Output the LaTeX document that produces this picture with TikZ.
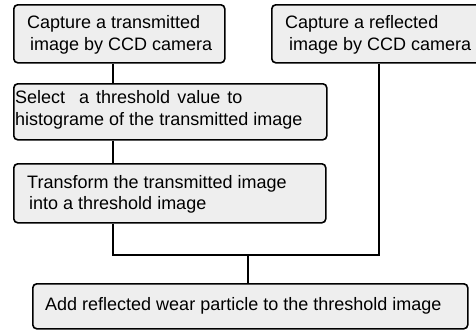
\documentclass[tikz,border=0pt]{standalone}
\usepackage{fontspec}
\setmainfont{Liberation Sans}
\begin{document}
\begin{tikzpicture}[x=1pt,y=-1pt,
  stepbox/.style={draw=black, line width=1.6pt, rounded corners=4pt, fill=gray!13,
    anchor=north west, inner sep=0pt},
  steptext/.style={align=left, font=\fontsize{18}{21.5}\selectfont, anchor=west, inner sep=0pt},
  link/.style={draw=black, line width=1.6pt}]
\useasboundingbox (0,0) rectangle (476,332);
\node[stepbox, minimum width=211pt, minimum height=58pt] (b1) at (13,4) {};
\node[stepbox, minimum width=210pt, minimum height=58pt] (b2) at (271,4) {};
\node[stepbox, minimum width=313pt, minimum height=56pt] (b3) at (13,83) {};
\node[stepbox, minimum width=312pt, minimum height=59pt] (b4) at (13,163) {};
\node[stepbox, minimum width=435pt, minimum height=45pt] (b5) at (32,283) {};
\node[steptext] (t1) at ([xshift=14pt,yshift=-1pt]b1.west) {Capture a transmitted\\\hspace{3pt}image by CCD camera};
\node[steptext] (t2) at ([xshift=14pt,yshift=-1pt]b2.west) {Capture a reflected\\\hspace{4pt}image by CCD camera};
\node[steptext] (t3) at ([xshift=2pt,yshift=2pt]b3.west) {\spaceskip=7pt Select\ \ a threshold value to\\histograme of the transmitted image};
\node[steptext] (t4) at ([xshift=14pt,yshift=-1pt]b4.west) {Transform the transmitted image\\\hspace{2pt}into a threshold image};
\node[steptext] (t5) at ([xshift=13pt]b5.west) {Add reflected wear particle to the threshold image};
\coordinate (j1) at (113,255);
\coordinate (j2) at (379,255);
\coordinate (jm) at (248,255);
\draw[link] (b1.south -| j1) -- (b3.north -| j1);
\draw[link] (b3.south -| j1) -- (b4.north -| j1);
\draw[link] (b4.south -| j1) -- (j1) -- (j2) -- (b2.south -| j2);
\draw[link] (jm) -- (b5.north -| jm);
\end{tikzpicture}
\end{document}
